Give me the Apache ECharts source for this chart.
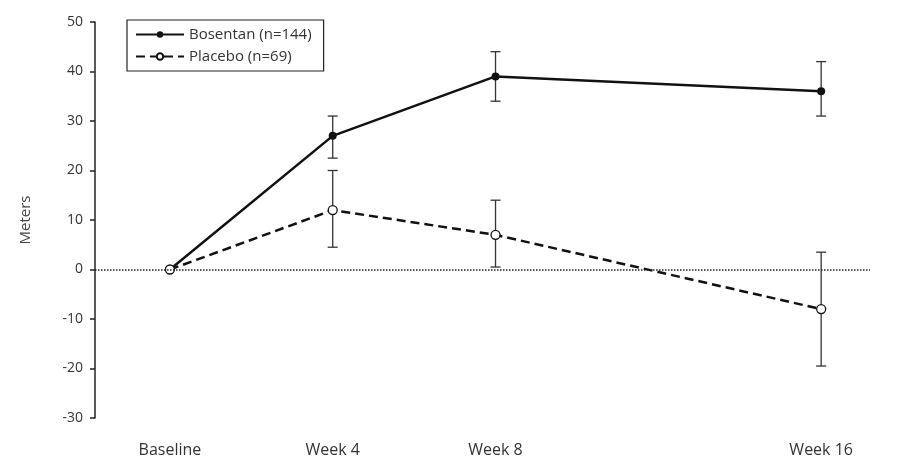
<!DOCTYPE html>
<html>
<head>
<meta charset="UTF-8">
<script src="https://cdn.jsdelivr.net/npm/echarts@6/dist/echarts.min.js"></script>
<style>body{margin:0;background:#fff}#chart{width:905px;height:459px}</style>
</head>
<body>
<div id="chart"></div>
<script>
const weeks = [0, 4, 8, 16];
const weekLabels = {0: 'Baseline', 4: 'Week 4', 8: 'Week 8', 16: 'Week 16'};
const bosentan = [0, 27, 39, 36];
const bosentanLow = [0, 22.5, 34, 31];
const bosentanHigh = [0, 31, 44, 42];
const placebo = [0, 12, 7, -8];
const placeboLow = [0, 4.5, 0.5, -19.5];
const placeboHigh = [0, 20, 14, 3.5];

const chart = echarts.init(document.getElementById('chart'));
const errSeries = (low, high) => ({
    type: 'custom',
    silent: true,
    z: 1,
    data: weeks.slice(1).map((w, i) => [w, low[i + 1], high[i + 1]]),
    renderItem: (params, api) => {
        const a = api.coord([api.value(0), api.value(1)]);
        const b = api.coord([api.value(0), api.value(2)]);
        const st = {stroke: '#333', lineWidth: 1.3};
        return {type: 'group', children: [
            {type: 'line', shape: {x1: a[0], y1: a[1], x2: b[0], y2: b[1]}, style: st},
            {type: 'line', shape: {x1: a[0] - 5, y1: a[1], x2: a[0] + 5, y2: a[1]}, style: st},
            {type: 'line', shape: {x1: b[0] - 5, y1: b[1], x2: b[0] + 5, y2: b[1]}, style: st}
        ]};
    }
});

chart.setOption({
    animation: false,
    textStyle: {fontFamily: 'Open Sans', color: '#333'},
    grid: {left: 95, right: 35, top: 22, bottom: 41},
    legend: {
        left: 127, top: 20, orient: 'vertical',
        padding: [7, 12, 7, 8], itemGap: 7,
        borderColor: '#222', borderWidth: 1.2,
        itemWidth: 48, itemHeight: 8,
        textStyle: {fontSize: 15, color: '#333'},
        data: ['Bosentan (n=144)', 'Placebo (n=69)']
    },
    xAxis: {
        type: 'value', min: -1.84, max: 17.2,
        axisLine: {show: false}, axisTick: {show: false}, splitLine: {show: false},
        axisLabel: {
            customValues: weeks, margin: 24, fontSize: 16, color: '#333',
            formatter: v => weekLabels[v] || ''
        }
    },
    yAxis: {
        type: 'value', min: -30, max: 50, interval: 10,
        name: 'Meters', nameLocation: 'middle', nameGap: 62, nameRotate: 90,
        nameTextStyle: {fontSize: 15, color: '#444'},
        axisLine: {show: true, onZero: false, lineStyle: {color: '#222', width: 1.5}},
        axisTick: {show: true, length: 5, lineStyle: {color: '#222', width: 1.5}},
        splitLine: {show: false},
        axisLabel: {fontSize: 14, color: '#333', margin: 12}
    },
    series: [
        {
            name: 'Bosentan (n=144)', type: 'line', z: 3,
            data: weeks.map((w, i) => [w, bosentan[i]]),
            symbol: 'circle', symbolSize: 8,
            lineStyle: {color: '#111', width: 2.5},
            itemStyle: {color: '#111'},
            markLine: {
                silent: true, symbol: 'none', label: {show: false},
                lineStyle: {type: 'dotted', color: '#222', width: 1.5},
                data: [{yAxis: 0}]
            }
        },
        {
            name: 'Placebo (n=69)', type: 'line', z: 3,
            data: weeks.map((w, i) => [w, placebo[i]]),
            symbol: 'circle', symbolSize: 9,
            lineStyle: {color: '#111', width: 2.5, type: [9, 5]},
            itemStyle: {color: '#fff', borderColor: '#111', borderWidth: 1.3}
        },
        errSeries(bosentanLow, bosentanHigh),
        errSeries(placeboLow, placeboHigh)
    ]
});
</script>
</body>
</html>
